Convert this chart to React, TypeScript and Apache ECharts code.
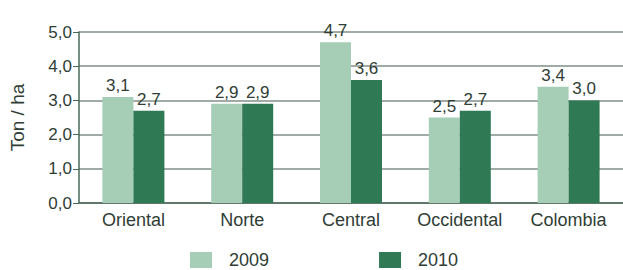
import React, { useEffect, useRef } from "react";
import * as echarts from "echarts";

const categories = ["Oriental", "Norte", "Central", "Occidental", "Colombia"];
const values2009 = [3.1, 2.9, 4.7, 2.5, 3.4];
const values2010 = [2.7, 2.9, 3.6, 2.7, 3.0];
const seriesNames = ["2009", "2010"];
const yTicks = [0, 1, 2, 3, 4, 5];

const fmt = (v: number) => v.toFixed(1).replace(".", ",");

export default function App() {
  const ref = useRef<HTMLDivElement>(null);
  useEffect(() => {
    if (!ref.current) return;
    const chart = echarts.init(ref.current, null, { renderer: "svg" });
    const textColor = "#2f3d35";
    const font = "Liberation Sans, Arial, sans-serif";
    const dataLabel = {
      show: true,
      position: "top",
      distance: 3,
      color: textColor,
      fontSize: 17,
      fontFamily: font,
      formatter: (p: any) => fmt(p.value),
    };
    chart.setOption({
      animation: false,
      textStyle: { fontFamily: font },
      grid: { left: 75, right: 0, top: 32, bottom: 67 },
      legend: {
        top: 251,
        left: 190,
        padding: 0,
        itemWidth: 22,
        itemHeight: 16,
        itemGap: 110,
        icon: "rect",
        textStyle: { fontSize: 18, color: textColor, fontFamily: font, padding: [0, 0, 0, 12] },
        data: seriesNames,
      },
      xAxis: {
        type: "category",
        data: categories,
        axisTick: { show: false },
        axisLine: { lineStyle: { color: "#4a6a58", width: 1.5 } },
        axisLabel: { color: textColor, fontSize: 18, margin: 8, fontFamily: font, interval: 0, hideOverlap: false },
      },
      yAxis: {
        type: "value",
        min: yTicks[0],
        max: yTicks[yTicks.length - 1],
        interval: 1,
        name: "Ton / ha",
        nameLocation: "middle",
        nameGap: 52,
        nameTextStyle: { color: textColor, fontSize: 19, fontFamily: font },
        axisLine: { show: true, lineStyle: { color: "#4a6a58", width: 1.5 } },
        axisTick: { show: true, length: 6, lineStyle: { color: "#4a6a58" } },
        axisLabel: { color: textColor, fontSize: 17, margin: 7, fontFamily: font, formatter: (v: number) => fmt(v) },
        splitLine: { lineStyle: { color: "#7f8f86", width: 1.5 } },
      },
      series: [
        {
          name: seriesNames[0],
          type: "bar",
          data: values2009,
          barWidth: 31,
          barGap: "0%",
          itemStyle: { color: "#a6cdb6" },
          label: dataLabel,
        },
        {
          name: seriesNames[1],
          type: "bar",
          data: values2010,
          barWidth: 31,
          barGap: "0%",
          itemStyle: { color: "#2f7a55" },
          label: dataLabel,
        },
      ],
    });
    return () => chart.dispose();
  }, []);
  return <div ref={ref} style={{ width: 623, height: 270, position: "absolute", left: 0, top: 0 }} />;
}
